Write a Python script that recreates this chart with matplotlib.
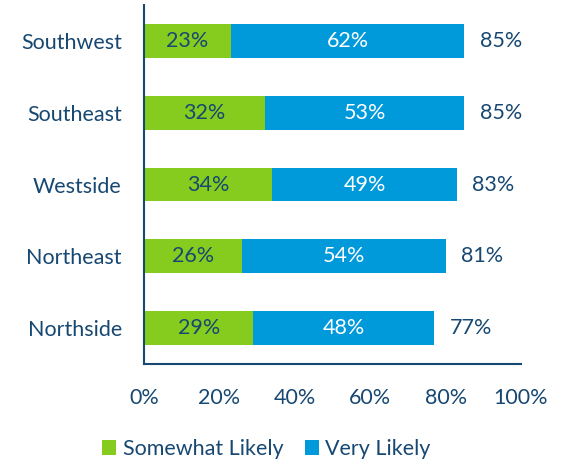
import numpy as np
import matplotlib.pyplot as plt

# dati
regioni = ['Southwest', 'Southeast', 'Westside', 'Northeast', 'Northside']
somewhat = [23, 32, 34, 26, 29]
very = [62, 53, 49, 54, 48]
totale = [85, 85, 83, 81, 77]

verde = '#86CC1E'
blu = '#009ADB'
testo = '#174872'

plt.rcParams['font.family'] = ['Lato', 'DejaVu Sans']
fs = 15.5

fig = plt.figure(figsize=(5.61, 4.61), dpi=100)
ax = fig.add_axes([0.2567, 0.2104, 0.672, 0.7786])

y = np.arange(len(regioni))
h = 0.47
b1 = ax.barh(y, somewhat, height=h, color=verde, label='Somewhat Likely')
b2 = ax.barh(y, very, left=somewhat, height=h, color=blu, label='Very Likely')

for i in range(len(regioni)):
    ax.text(somewhat[i] / 2, y[i], f'{somewhat[i]}%', ha='center', va='center',
            color=testo, fontsize=fs)
    ax.text(somewhat[i] + very[i] / 2, y[i], f'{very[i]}%', ha='center', va='center',
            color='white', fontsize=fs)
    ax.annotate(f'{totale[i]}%', (somewhat[i] + very[i], y[i]), xytext=(11, 0),
                textcoords='offset points', ha='left', va='center',
                color=testo, fontsize=fs)

ax.set_xlim(0, 100)
ax.set_ylim(len(regioni) - 0.5, -0.5)
ax.set_yticks(y)
ax.set_yticklabels(regioni)
ax.set_xticks(np.arange(0, 101, 20))
ax.set_xticklabels([f'{v}%' for v in range(0, 101, 20)])
ax.tick_params(length=0, labelsize=fs, labelcolor=testo)
ax.tick_params(axis='x', pad=17)
ax.tick_params(axis='y', pad=16)

for s in ['top', 'right']:
    ax.spines[s].set_visible(False)
for s in ['left', 'bottom']:
    ax.spines[s].set_color(testo)
    ax.spines[s].set_linewidth(1.5)

fig.legend(handles=[b1, b2], loc='lower left', bbox_to_anchor=(0.148, -0.038),
           ncol=2, frameon=False, fontsize=fs, labelcolor=testo,
           handlelength=0.65, handleheight=0.65, handletextpad=0.3, columnspacing=1.0)

fig.savefig('out.png', dpi=100)
